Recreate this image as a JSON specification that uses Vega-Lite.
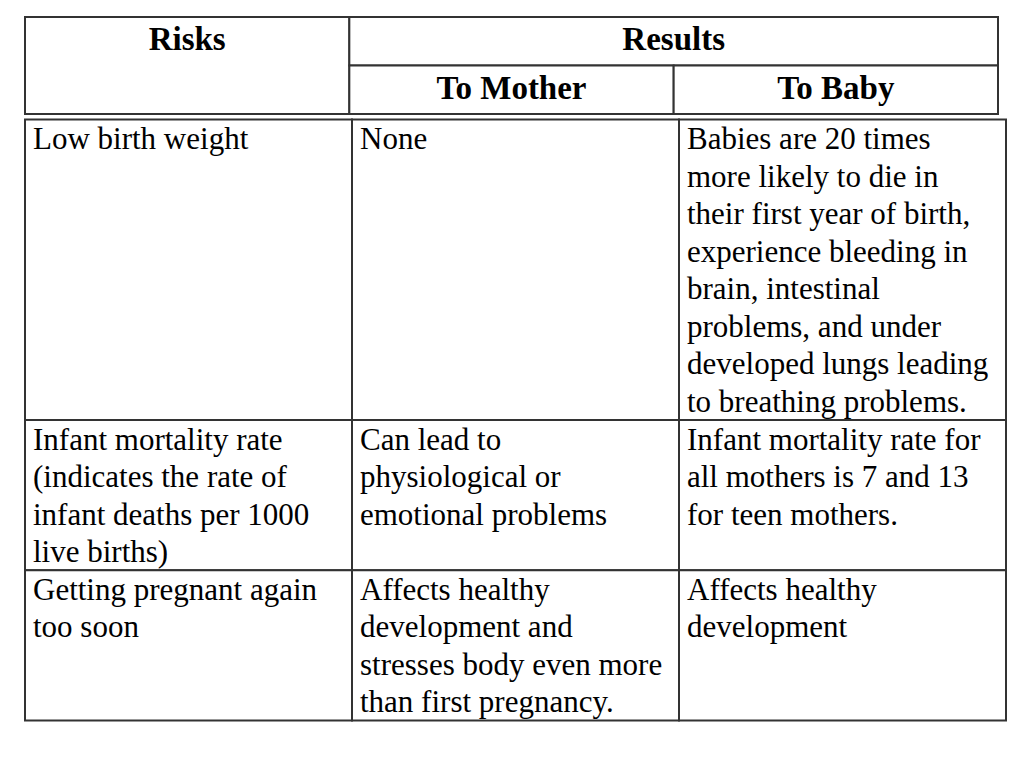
{
  "$schema": "https://vega.github.io/schema/vega-lite/v6.json",
  "background": "white",
  "padding": {"left": 24, "top": 16, "right": 0, "bottom": 0},
  "bounds": "flush",
  "spacing": 5.5,
  "config": {"view": {"stroke": null}},
  "datasets": {
    "headCells": [
      {"c0": 0, "c1": 1, "r0": 0, "r1": 2},
      {"c0": 1, "c1": 3, "r0": 0, "r1": 1},
      {"c0": 1, "c1": 2, "r0": 1, "r1": 2},
      {"c0": 2, "c1": 3, "r0": 1, "r1": 2}
    ],
    "headText": [
      {"label": "Risks", "xc": 0.5, "row": 0},
      {"label": "Results", "xc": 2, "row": 0},
      {"label": "To Mother", "xc": 1.5, "row": 1},
      {"label": "To Baby", "xc": 2.5, "row": 1}
    ],
    "bodyCells": [
      {"c0": 0, "c1": 1, "r0": 0, "r1": 8},
      {"c0": 1, "c1": 2, "r0": 0, "r1": 8},
      {"c0": 2, "c1": 3, "r0": 0, "r1": 8},
      {"c0": 0, "c1": 1, "r0": 8, "r1": 12},
      {"c0": 1, "c1": 2, "r0": 8, "r1": 12},
      {"c0": 2, "c1": 3, "r0": 8, "r1": 12},
      {"c0": 0, "c1": 1, "r0": 12, "r1": 16},
      {"c0": 1, "c1": 2, "r0": 12, "r1": 16},
      {"c0": 2, "c1": 3, "r0": 12, "r1": 16}
    ],
    "bodyText": [
      {"col": 0, "line": 0, "text": "Low birth weight"},
      {"col": 0, "line": 8, "text": "Infant mortality rate"},
      {"col": 0, "line": 9, "text": "(indicates the rate of"},
      {"col": 0, "line": 10, "text": "infant deaths per 1000"},
      {"col": 0, "line": 11, "text": "live births)"},
      {"col": 0, "line": 12, "text": "Getting pregnant again"},
      {"col": 0, "line": 13, "text": "too soon"},
      {"col": 1, "line": 0, "text": "None"},
      {"col": 1, "line": 8, "text": "Can lead to"},
      {"col": 1, "line": 9, "text": "physiological or"},
      {"col": 1, "line": 10, "text": "emotional problems"},
      {"col": 1, "line": 12, "text": "Affects healthy"},
      {"col": 1, "line": 13, "text": "development and"},
      {"col": 1, "line": 14, "text": "stresses body even more"},
      {"col": 1, "line": 15, "text": "than first pregnancy."},
      {"col": 2, "line": 0, "text": "Babies are 20 times"},
      {"col": 2, "line": 1, "text": "more likely to die in"},
      {"col": 2, "line": 2, "text": "their first year of birth,"},
      {"col": 2, "line": 3, "text": "experience bleeding in"},
      {"col": 2, "line": 4, "text": "brain, intestinal"},
      {"col": 2, "line": 5, "text": "problems, and under"},
      {"col": 2, "line": 6, "text": "developed lungs leading"},
      {"col": 2, "line": 7, "text": "to breathing problems."},
      {"col": 2, "line": 8, "text": "Infant mortality rate for"},
      {"col": 2, "line": 9, "text": "all mothers is 7 and 13"},
      {"col": 2, "line": 10, "text": "for teen mothers."},
      {"col": 2, "line": 12, "text": "Affects healthy"},
      {"col": 2, "line": 13, "text": "development"}
    ]
  },
  "vconcat": [
    {
      "width": 973,
      "height": 97,
      "layer": [
        {
          "data": {"name": "headCells"},
          "mark": {"type": "rect", "fill": "white", "stroke": "#333333", "strokeWidth": 2},
          "encoding": {
            "x": {"field": "c0", "type": "quantitative", "scale": {"domain": [0, 3], "nice": false, "zero": false}, "axis": null},
            "x2": {"field": "c1"},
            "y": {"field": "r0", "type": "quantitative", "scale": {"domain": [0, 2], "nice": false, "zero": false, "reverse": true}, "axis": null},
            "y2": {"field": "r1"}
          }
        },
        {
          "data": {"name": "headText"},
          "mark": {"type": "text", "font": "Times New Roman, Liberation Serif, serif", "fontWeight": "bold", "fontSize": 33, "color": "black", "align": "center", "baseline": "alphabetic", "dy": 33},
          "encoding": {
            "x": {"field": "xc", "type": "quantitative"},
            "y": {"field": "row", "type": "quantitative"},
            "text": {"field": "label"}
          }
        }
      ]
    },
    {
      "width": 981,
      "height": 601,
      "layer": [
        {
          "data": {"name": "bodyCells"},
          "mark": {"type": "rect", "fill": "white", "stroke": "#333333", "strokeWidth": 2},
          "encoding": {
            "x": {"field": "c0", "type": "quantitative", "scale": {"domain": [0, 3], "nice": false, "zero": false}, "axis": null},
            "x2": {"field": "c1"},
            "y": {"field": "r0", "type": "quantitative", "scale": {"domain": [0, 16], "nice": false, "zero": false, "reverse": true}, "axis": null},
            "y2": {"field": "r1"}
          }
        },
        {
          "data": {"name": "bodyText"},
          "mark": {"type": "text", "font": "Times New Roman, Liberation Serif, serif", "fontSize": 31, "color": "black", "align": "left", "baseline": "alphabetic", "dx": 8, "dy": 29.5},
          "encoding": {
            "x": {"field": "col", "type": "quantitative"},
            "y": {"field": "line", "type": "quantitative"},
            "text": {"field": "text"}
          }
        }
      ]
    }
  ]
}
